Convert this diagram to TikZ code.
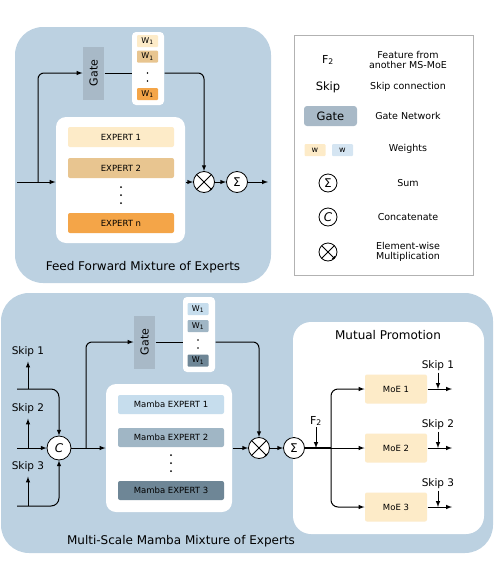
\documentclass[tikz,border=0pt]{standalone}
\usepackage{fontspec}
\setmainfont{DejaVu Sans}
\usetikzlibrary{arrows,calc,positioning}
\definecolor{panelblue}{RGB}{188,209,225}
\definecolor{gategray}{RGB}{168,185,199}
\definecolor{ffone}{RGB}{253,235,200}
\definecolor{fftwo}{RGB}{232,197,144}
\definecolor{ffthree}{RGB}{244,165,72}
\definecolor{mbone}{RGB}{198,221,237}
\definecolor{mbtwo}{RGB}{160,182,197}
\definecolor{mbthree}{RGB}{110,134,150}
\definecolor{legw}{RGB}{213,229,242}
\tikzstyle{panel} = [fill=panelblue, rounded corners=28pt]
\tikzstyle{inner} = [rectangle, fill=white, rounded corners=10pt]
\tikzstyle{expert} = [rectangle, rounded corners=2pt, minimum width=106pt, minimum height=20pt, text centered, font=\fontsize{8.5}{9}\selectfont]
\tikzstyle{gate} = [rectangle, rotate=90, fill=gategray, minimum width=53pt, minimum height=21pt, font=\fontsize{11}{12}\selectfont]
\tikzstyle{wt} = [rectangle, rounded corners=1pt, minimum width=21pt, minimum height=12pt, inner sep=0pt, font=\fontsize{8}{8}\selectfont]
\tikzstyle{op} = [circle, draw, thick, fill=white, minimum size=21pt, inner sep=0pt, font=\fontsize{12}{12}\selectfont]
\tikzstyle{mult} = [op, path picture={\draw[thick] (path picture bounding box.south west) -- (path picture bounding box.north east) (path picture bounding box.north west) -- (path picture bounding box.south east);}]
\tikzstyle{moe} = [rectangle, rounded corners=2pt, fill=ffone, minimum width=62pt, minimum height=29pt, font=\fontsize{8.5}{9}\selectfont]
\tikzstyle{skiptxt} = [font=\fontsize{10.5}{11}\selectfont, inner sep=1pt]
\tikzstyle{title} = [font=\fontsize{12}{13}\selectfont]
\tikzstyle{legtxt} = [font=\fontsize{9.5}{10.5}\selectfont, align=center]

\begin{document}
\begin{tikzpicture}[x=1pt,y=-1pt,->,>=latex,line width=1pt]
            \useasboundingbox (0,0) rectangle (500,563);

            % feed forward MoE
            \draw[panel,draw=none] (15,27) rectangle (271,283);
            \node[inner, minimum width=129pt, minimum height=126pt] (ffbox) at (120.5,180) {};
            \node[expert, fill=ffone] (ff1) at (121,137) {EXPERT 1};
            \node[expert, fill=fftwo] (ff2) at (121,168) {EXPERT 2};
            \node[expert, fill=ffthree] (ffn) at (121,223) {EXPERT n};
            \foreach \y in {187,195,203} \fill (121,\y) circle (1pt);
            \node[gate] (gate1) at (93.5,73) {Gate};
            \node[inner, rounded corners=4pt, minimum width=32pt, minimum height=73pt] (wts1) at (148,68.5) {};
            \node[wt, fill=ffone] (w11) at (147.5,41) {W\textsubscript{1}};
            \node[wt, fill=fftwo] (w12) at (147.5,56.5) {W\textsubscript{1}};
            \node[wt, fill=ffthree] (w13) at (147.5,94) {W\textsubscript{1}};
            \foreach \y in {73,81} \fill (147.5,\y) circle (0.9pt);
            \node[mult] (mul1) at (204,182) {};
            \node[op] (sum1) at (237,182) {Σ};
            \coordinate (in1) at (17,182);
            \coordinate (br1) at (38,182);
            \coordinate (out1) at (268,182);
            \draw (in1) -- (in1 -| ffbox.west);
            \draw[rounded corners=6pt] (br1) |- (gate1);
            \draw[-] (gate1) -- (gate1 -| wts1.west);
            \draw[rounded corners=6pt] (gate1 -| wts1.east) -| (mul1);
            \draw (mul1 -| ffbox.east) -- (mul1);
            \draw (mul1) -- (sum1);
            \draw (sum1) -- (out1);
            \node[title] (fftitle) at (143,267) {Feed Forward Mixture of Experts};

            % legend
            \draw[-, draw=black!30, line width=0.8pt] (294,35) rectangle (473,275);
            \node[font=\fontsize{11}{12}\selectfont] (lf2) at (328,60) {F\textsubscript{2}};
            \node[legtxt] (lf2t) at (408,60) {Feature from\\another MS-MoE};
            \node[font=\fontsize{11.5}{12}\selectfont] (lskip) at (328,87) {Skip};
            \node[legtxt] (lskipt) at (408,87) {Skip connection};
            \node[fill=gategray, rounded corners=3pt, minimum width=53pt, minimum height=20pt, font=\fontsize{11.5}{12}\selectfont] (lgate) at (330.5,116) {Gate};
            \node[legtxt] (lgatet) at (408,116) {Gate Network};
            \node[wt, fill=ffone] (lw1) at (315,150) {w};
            \node[wt, fill=legw] (lw2) at (342.5,150) {w};
            \node[legtxt] (lwt) at (408,149) {Weights};
            \node[op, fill=none, minimum size=18pt] (lsum) at (328,183) {Σ};
            \node[legtxt] (lsumt) at (408,183) {Sum};
            \node[op, fill=none, minimum size=18pt] (lcat) at (328,217) {\textit{C}};
            \node[legtxt] (lcatt) at (408,217) {Concatenate};
            \node[mult, fill=none, minimum size=18pt] (lmul) at (328,252) {};
            \node[legtxt] (lmult) at (408,252) {Element-wise\\Multiplication};

            % multi-scale mamba MoE
            \draw[panel,draw=none] (1,293) rectangle (493,553);
            \node[inner, rounded corners=18pt, minimum width=191pt, minimum height=212pt] (mpbox) at (388.5,428) {};
            \node[title] (mptitle) at (388,335) {Mutual Promotion};
            \node[inner, minimum width=126pt, minimum height=128pt] (mbox) at (169,448) {};
            \node[expert, fill=mbone, minimum height=19pt] (mb1) at (171,404.5) {Mamba EXPERT 1};
            \node[expert, fill=mbtwo, minimum height=19pt] (mb2) at (171,437.5) {Mamba EXPERT 2};
            \node[expert, fill=mbthree, minimum height=19pt] (mb3) at (171,490.5) {Mamba EXPERT 3};
            \foreach \y in {455,463,471} \fill (171,\y) circle (1pt);
            \node[gate] (gate2) at (144.5,342) {Gate};
            \node[inner, rounded corners=4pt, minimum width=32pt, minimum height=75pt] (wts2) at (199,334.5) {};
            \node[wt, fill=mbone] (w21) at (198,309) {W\textsubscript{1}};
            \node[wt, fill=mbtwo] (w22) at (198,326) {W\textsubscript{1}};
            \node[wt, fill=mbthree] (w23) at (198,360.5) {W\textsubscript{1}};
            \foreach \y in {340,348} \fill (198,\y) circle (0.9pt);
            \node[op, minimum size=24pt] (cat) at (59,448) {\textit{C}};
            \node[mult] (mul2) at (259,448) {};
            \node[op] (sum2) at (294,448) {Σ};
            \coordinate (a1) at (17,389);
            \coordinate (a2) at (17,448);
            \coordinate (a3) at (17,506);
            \coordinate (br2) at (86,448);
            \node[skiptxt] (s1) at (28,352) {Skip 1};
            \node[skiptxt] (s2) at (28,409) {Skip 2};
            \node[skiptxt] (s3) at (28,467) {Skip 3};
            \draw[rounded corners=8pt] (a1) -| (cat);
            \draw (a2) -- (cat);
            \draw[rounded corners=8pt] (a3) -| (cat);
            \draw[shorten >=3pt] (s1 |- a1) -- (s1);
            \draw[shorten >=3pt] (s2 |- a2) -- (s2);
            \draw[shorten >=3pt] (s3 |- a3) -- (s3);
            \draw (cat) -- (mbox);
            \draw[rounded corners=6pt] (br2) |- (gate2);
            \draw[-] (gate2) -- (gate2 -| wts2.west);
            \draw[rounded corners=6pt] (gate2 -| wts2.east) -| (mul2);
            \draw (mbox) -- (mul2);
            \draw (mul2) -- (sum2);

            % mutual promotion
            \node[moe] (moe1) at (396,389) {MoE 1};
            \node[moe] (moe2) at (396,448) {MoE 2};
            \node[moe] (moe3) at (396,507) {MoE 3};
            \coordinate (br3) at (331,448);
            \node[font=\fontsize{11}{12}\selectfont, inner sep=1pt] (f2) at (316,421) {F\textsubscript{2}};
            \draw[-, line width=1.6pt] (sum2) -- (br3);
            \draw (f2) -- (f2 |- sum2);
            \draw[rounded corners=7pt] (br3) |- (moe1);
            \draw (br3) -- (moe2);
            \draw[rounded corners=7pt] (br3) |- (moe3);
            \coordinate (o1) at (452,389);
            \coordinate (o2) at (452,448);
            \coordinate (o3) at (452,507);
            \node[skiptxt] (s4) at (438,366) {Skip 1};
            \node[skiptxt] (s5) at (438,425) {Skip 2};
            \node[skiptxt] (s6) at (438,484) {Skip 3};
            \draw (moe1) -- (o1);
            \draw (moe2) -- (o2);
            \draw (moe3) -- (o3);
            \draw (s4) -- (s4 |- o1);
            \draw (s5) -- (s5 |- o2);
            \draw (s6) -- (s6 |- o3);
            \node[title] (mstitle) at (181,541) {Multi-Scale Mamba Mixture of Experts};
        \end{tikzpicture}
\end{document}
